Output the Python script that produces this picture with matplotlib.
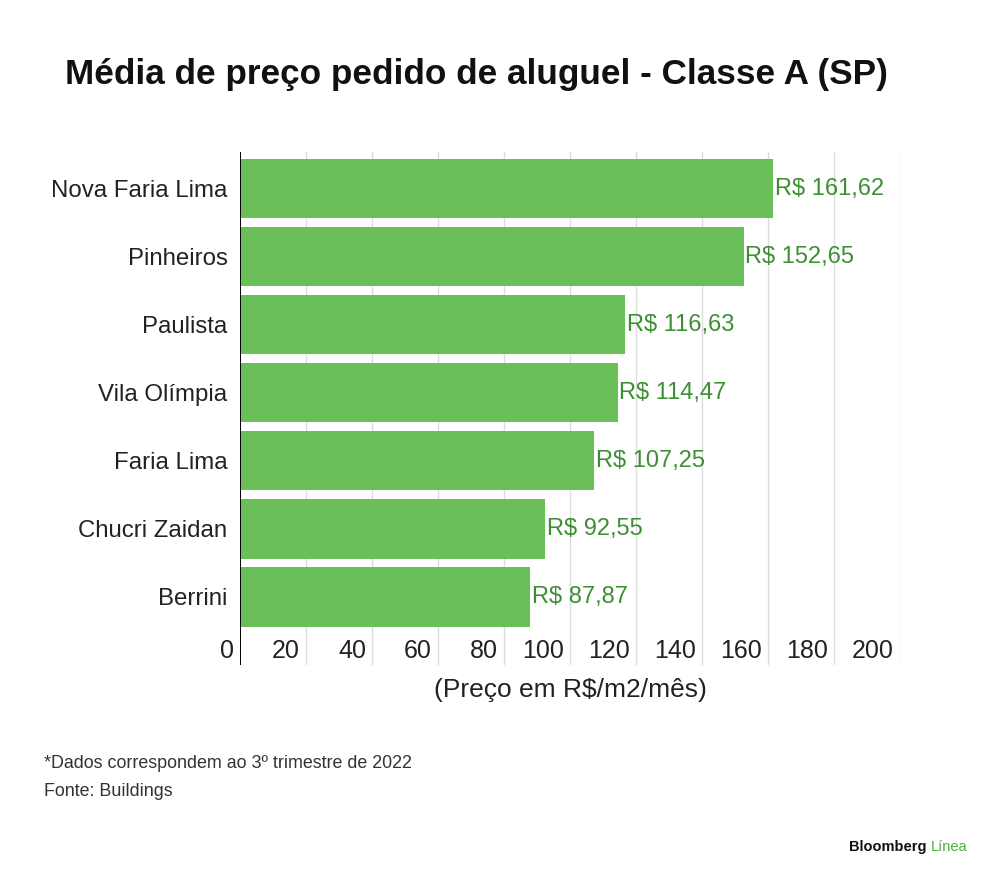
import matplotlib.pyplot as plt

bairros = ["Nova Faria Lima", "Pinheiros", "Paulista", "Vila Olímpia",
           "Faria Lima", "Chucri Zaidan", "Berrini"]
precos = [161.62, 152.65, 116.63, 114.47, 107.25, 92.55, 87.87]
rotulos = ["R$ 161,62", "R$ 152,65", "R$ 116,63", "R$ 114,47",
           "R$ 107,25", "R$ 92,55", "R$ 87,87"]
ticks = [0, 20, 40, 60, 80, 100, 120, 140, 160, 180, 200]

verde = "#6abf59"
verde_txt = "#3d8f33"
fonte = "Liberation Sans"

plt.rcParams["font.family"] = [fonte, "DejaVu Sans"]

fig = plt.figure(figsize=(10, 8.82), dpi=100)
ax = fig.add_axes([0.24, 0.246, 0.66, 0.582])

y = list(range(len(bairros)))
ax.barh(y, precos, height=0.87, color=verde, zorder=2)

ax.set_xlim(0, 200)
ax.set_ylim(7.0, -0.544)

# grade vertical e eixo
for t in ticks:
    if t == 0:
        ax.axvline(0, color="black", lw=1.4, zorder=3)
    else:
        ax.axvline(t, color="#dcdcdc", lw=1, zorder=1)
    ax.text(t - 1.8, 6.8, str(t), ha="right", va="center", fontsize=18,
            color="#222222")

for s in ax.spines.values():
    s.set_visible(False)
ax.set_xticks([])
ax.set_yticks(y)
ax.set_yticklabels(bairros, fontsize=17.3, color="#222222")
ax.tick_params(axis="y", length=0, pad=9)

for yi, v, r in zip(y, precos, rotulos):
    ax.text(v + 0.5, yi, r, ha="left", va="center", fontsize=17,
            color=verde_txt, zorder=4)

ax.text(100, 7.37, "(Preço em R$/m2/mês)", ha="center", va="center",
        fontsize=19, color="#222222", clip_on=False)

fig.text(0.065, 0.915, "Média de preço pedido de aluguel - Classe A (SP)",
         fontsize=25.3, fontweight="bold", color="#111111", ha="left", va="center")

fig.text(0.044, 1 - 763 / 882, "*Dados correspondem ao 3º trimestre de 2022",
         fontsize=12.9, color="#333333", ha="left", va="center")
fig.text(0.044, 1 - 791 / 882, "Fonte: Buildings",
         fontsize=12.9, color="#333333", ha="left", va="center")

fig.text(0.927, 1 - 847 / 882, "Bloomberg", fontsize=10.5, fontweight="bold",
         color="#111111", ha="right", va="center")
fig.text(0.931, 1 - 847 / 882, "Línea", fontsize=10.5,
         color="#4caf3a", ha="left", va="center")

fig.savefig("out.png", dpi=100, facecolor="white")
